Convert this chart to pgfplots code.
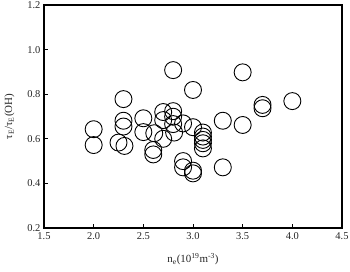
\documentclass[border=0pt]{standalone}
\usepackage{fontspec}
\setmainfont{Liberation Serif}
\usepackage{pgfplots}
\pgfplotsset{compat=1.18}
\begin{document}
\begin{tikzpicture}
\begin{axis}[
  scale only axis,
  width=298bp, height=223bp,
  xmin=1.5, xmax=4.5, ymin=0.2, ymax=1.2,
  xtick={1.5,2.0,...,4.5},
  ytick={0.2,0.4,...,1.2},
  tick align=inside,
  xtick pos=bottom, ytick pos=left,
  major tick length=4bp,
  axis line style={line width=1.1bp},
  every tick/.style={line width=1bp, black},
  /pgf/number format/assume math mode=true,
  /pgf/number format/.cd, fixed, fixed zerofill, precision=1, /pgfplots/.cd,
  tick label style={font=\fontsize{10.5}{12}\selectfont, text=black!85},
  xticklabel style={yshift=-1bp},
  xlabel={n\textsubscript{e}(10\textsuperscript{19}m\textsuperscript{-3})},
  ylabel={τ\textsubscript{E}/τ\textsubscript{E}(OH)},
  label style={font=\fontsize{11}{13}\selectfont, text=black!85},
  xlabel style={yshift=-7bp},
  ylabel style={yshift=6bp},
  clip=false,
]
\addplot[only marks, mark=o, mark size=8.5bp, mark options={line width=0.9bp, black}] coordinates {
(2.0,0.643) (2.0,0.572)
(2.25,0.583) (2.31,0.568)
(2.30,0.778) (2.30,0.681) (2.30,0.655)
(2.50,0.692) (2.50,0.630)
(2.61,0.625) (2.60,0.550) (2.60,0.530)
(2.70,0.720) (2.70,0.684) (2.70,0.600)
(2.80,0.908) (2.80,0.724) (2.80,0.699) (2.80,0.666) (2.81,0.628)
(2.90,0.669) (2.90,0.500) (2.90,0.472)
(3.00,0.819) (3.00,0.652) (3.00,0.457) (3.00,0.445)
(3.10,0.628) (3.10,0.610) (3.10,0.595) (3.10,0.580) (3.10,0.557)
(3.30,0.681) (3.30,0.472)
(3.50,0.898) (3.50,0.662)
(3.70,0.752) (3.70,0.737)
(4.00,0.769)
};
\end{axis}
\pgfresetboundingbox
\path ([shift={(-44bp,-44bp)}]current axis.south west) rectangle ([shift={(8bp,5bp)}]current axis.north east);
\end{tikzpicture}
\end{document}
